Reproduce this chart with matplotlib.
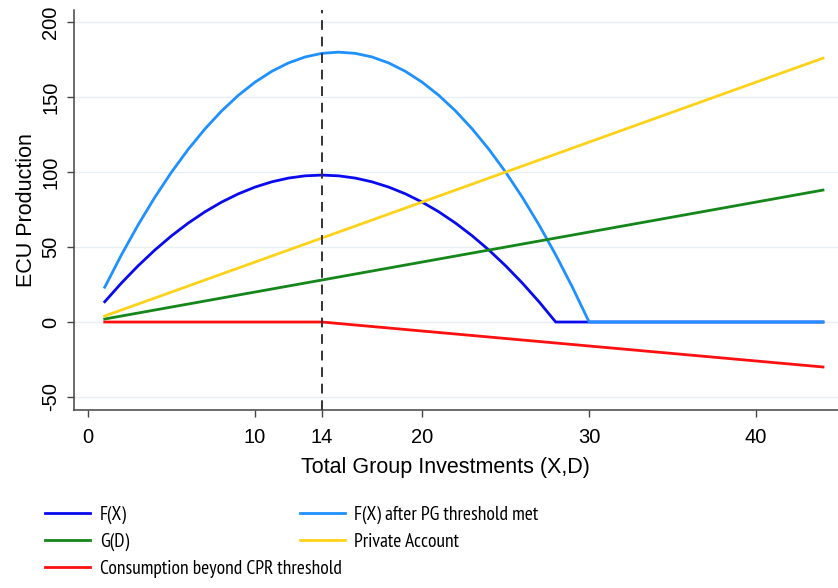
import numpy as np
import matplotlib.pyplot as plt

plt.rcParams['font.family'] = ['Liberation Sans', 'DejaVu Sans']
plt.rcParams['axes.unicode_minus'] = False

# total group investment levels
invest = list(range(1, 45))

# public good production F(X), zero once past the peak region
f_x = [13.5, 26, 37.5, 48, 57.5, 66, 73.5, 80, 85.5, 90, 93.5, 96, 97.5, 98,
       97.5, 96, 93.5, 90, 85.5, 80, 73.5, 66, 57.5, 48, 37.5, 26, 13.5, 0,
       0, 0, 0, 0, 0, 0, 0, 0, 0, 0, 0, 0, 0, 0, 0, 0]
# F(X) once the PG threshold has been met
f_x_pg = [23.2, 44.8, 64.8, 83.2, 100, 115.2, 128.8, 140.8, 151.2, 160, 167.2,
          172.8, 176.8, 179.2, 180, 179.2, 176.8, 172.8, 167.2, 160, 151.2,
          140.8, 128.8, 115.2, 100, 83.2, 64.8, 44.8, 23.2, 0,
          0, 0, 0, 0, 0, 0, 0, 0, 0, 0, 0, 0, 0, 0]
g_d = [2, 4, 6, 8, 10, 12, 14, 16, 18, 20, 22, 24, 26, 28, 30, 32, 34, 36, 38,
       40, 42, 44, 46, 48, 50, 52, 54, 56, 58, 60, 62, 64, 66, 68, 70, 72, 74,
       76, 78, 80, 82, 84, 86, 88]
private_acct = [4, 8, 12, 16, 20, 24, 28, 32, 36, 40, 44, 48, 52, 56, 60, 64,
                68, 72, 76, 80, 84, 88, 92, 96, 100, 104, 108, 112, 116, 120,
                124, 128, 132, 136, 140, 144, 148, 152, 156, 160, 164, 168,
                172, 176]
consumption = [0, 0, 0, 0, 0, 0, 0, 0, 0, 0, 0, 0, 0, 0, -1, -2, -3, -4, -5,
               -6, -7, -8, -9, -10, -11, -12, -13, -14, -15, -16, -17, -18,
               -19, -20, -21, -22, -23, -24, -25, -26, -27, -28, -29, -30]
cpr_threshold = 14

fig = plt.figure(figsize=(8.38, 5.88), dpi=100)
ax = fig.add_axes([0.0883, 0.3027, 0.9117, 0.68])

lw = 2.0
l_f, = ax.plot(invest, f_x, color='#0a0aef', lw=lw, label='F(X)')
l_fpg, = ax.plot(invest, f_x_pg, color='#1e90ff', lw=lw, label='F(X) after PG threshold met')
l_g, = ax.plot(invest, g_d, color='#14861a', lw=lw, label='G(D)')
l_p, = ax.plot(invest, private_acct, color='#ffd21a', lw=lw, label='Private Account')
l_c, = ax.plot(invest, consumption, color='#ff1010', lw=lw, label='Consumption beyond CPR threshold')
ax.axvline(cpr_threshold, color='#333333', lw=1.4, ls=(0, (5, 3.5)), zorder=5)

ax.set_xlim(-0.84, 44.9)
ax.set_ylim(-58.7, 208)
ax.set_xticks([0, 10, 14, 20, 30, 40])
ax.set_yticks([-50, 0, 50, 100, 150, 200])
ax.grid(axis='y', color='#e6eff2', lw=1)
ax.set_axisbelow(True)
for s in ['top', 'right']:
    ax.spines[s].set_visible(False)
for s in ['left', 'bottom']:
    ax.spines[s].set_color('#444444')
    ax.spines[s].set_linewidth(1.1)
ax.tick_params(axis='both', labelsize=14.5, length=5, width=1, color='#444444')
ax.tick_params(axis='x', pad=8)
ax.tick_params(axis='y', pad=5)
plt.setp(ax.get_yticklabels(), rotation=90, va='center')
ax.set_xlabel('Total Group Investments (X,D)', fontsize=15.5)
ax.xaxis.set_label_coords(0.486, -0.117)
ax.set_ylabel('ECU Production', fontsize=15.5, labelpad=3)

leg_kw = dict(frameon=False, handlelength=2.3, handletextpad=0.5,
              labelspacing=0.45, borderpad=0, borderaxespad=0, loc='upper left',
              prop={'family': 'PT Sans Narrow', 'size': 14})
fig.legend(handles=[l_f, l_g, l_c], bbox_to_anchor=(0.054, 0.14), **leg_kw)
fig.legend(handles=[l_fpg, l_p], bbox_to_anchor=(0.358, 0.14), **leg_kw)

fig.savefig('out.png', dpi=100)
